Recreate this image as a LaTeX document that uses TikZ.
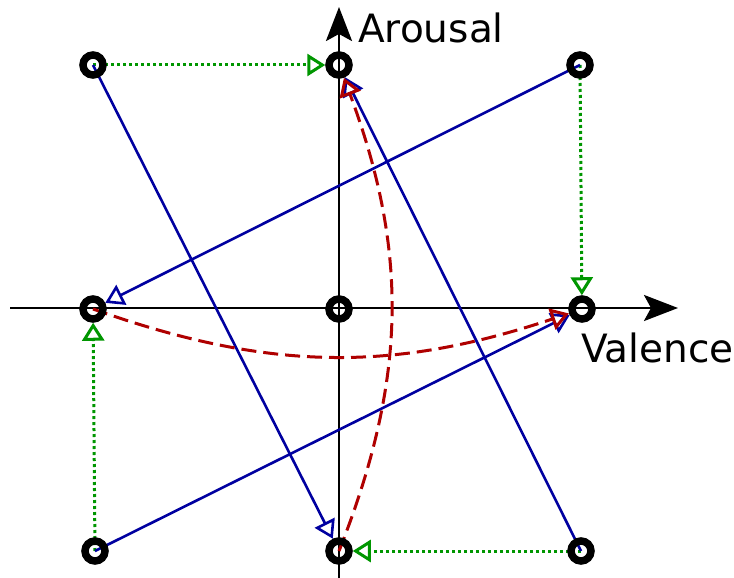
\documentclass[tikz,border=0pt]{standalone}
\usepackage{fontspec}
\setmainfont{DejaVu Sans}
\usetikzlibrary{arrows.meta,backgrounds}
\definecolor{mygreen}{RGB}{0,150,0}
\definecolor{myblue}{RGB}{0,0,160}
\definecolor{myred}{RGB}{175,0,0}
\begin{document}
\begin{tikzpicture}[x=1pt,y=1pt,
  pt/.style={circle,draw=black,line width=7.5pt,minimum size=20pt,inner sep=0pt},
  axis/.style={line width=2.8pt,-{Stealth[length=34pt,width=26pt,inset=7pt]}},
  tip/.style={-{Triangle[open,length=18pt,width=22pt]}},
  grn/.style={tip,draw=mygreen,line width=3pt,dash pattern=on 3pt off 3pt},
  blu/.style={tip,draw=myblue,line width=2.6pt},
  rd/.style={tip,draw=myred,line width=3pt,dash pattern=on 15pt off 7pt},
  lbl/.style={font=\fontsize{39}{41}\selectfont,inner sep=0pt,anchor=base west}]
\useasboundingbox (0,0) rectangle (734,-578);
\node[pt] (TL) at (93,-65) {};
\node[pt] (TM) at (339,-65) {};
\node[pt] (TR) at (580,-65) {};
\node[pt] (ML) at (93,-309) {};
\node[pt] (MM) at (339,-309) {};
\node[pt] (MR) at (582,-309) {};
\node[pt] (BL) at (95,-551) {};
\node[pt] (BM) at (339,-551) {};
\node[pt] (BR) at (581,-551) {};
\coordinate (xs) at (10,-308);
\coordinate (xe) at (678,-308);
\coordinate (ys) at (339,-580);
\coordinate (ye) at (339,-7);
\node[lbl] (arousal) at (358,-43) {Arousal};
\node[lbl] (valence) at (581,-362) {Valence};
\begin{scope}[on background layer]
\draw[axis] (xs) -- (xe);
\draw[axis] (ys) -- (ye);
\draw[grn] (TL.center) -- (TM);
\draw[grn] (TR.center) -- (MR);
\draw[grn] (BR.center) -- (BM);
\draw[grn] (BL.center) -- (ML);
\draw[blu] (TL.center) -- (BM);
\draw[blu] (BR.center) -- (TM);
\draw[blu] (TR.center) -- (ML);
\draw[blu] (BL.center) -- (MR);
\draw[rd] (ML.center) to[bend right=19] (MR);
\draw[rd] (BM.center) to[bend right=21] (TM);
\end{scope}
\end{tikzpicture}
\end{document}
